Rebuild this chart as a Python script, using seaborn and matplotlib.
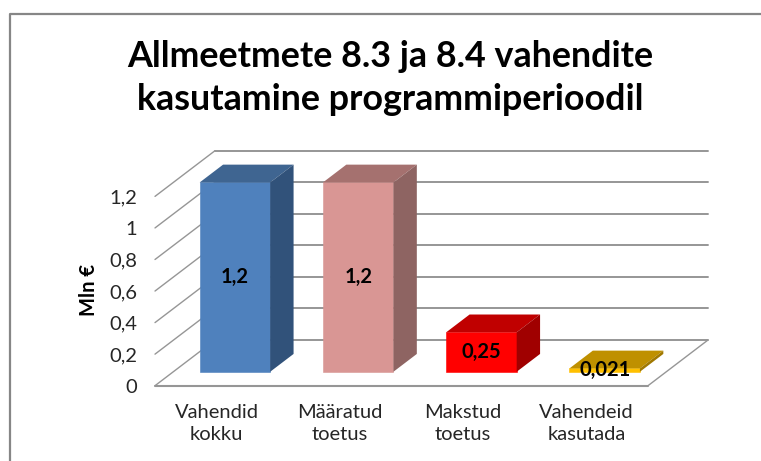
import matplotlib
matplotlib.use("Agg")
import matplotlib.pyplot as plt
from matplotlib.lines import Line2D
from matplotlib.patches import Polygon
import seaborn as sns

sns.set_theme(style="white")
plt.rcParams['font.family'] = ['Lato', 'DejaVu Sans']

# data
categories = ["Vahendid\nkokku", "Määratud\ntoetus", "Makstud\ntoetus", "Vahendeid\nkasutada"]
values = [1.2, 1.2, 0.25, 0.021]
value_labels = ["1,2", "1,2", "0,25", "0,021"]
y_ticks = [0, 0.2, 0.4, 0.6, 0.8, 1, 1.2]
y_tick_labels = ["0", "0,2", "0,4", "0,6", "0,8", "1", "1,2"]
title = "Allmeetmete 8.3 ja 8.4 vahendite\nkasutamine programmiperioodil"

front_colors = ["#4F81BD", "#D99694", "#FF0000", "#FFC000"]
top_colors = ["#3F6591", "#A5716F", "#C00000", "#BF9000"]
side_colors = ["#31527A", "#8E6462", "#A00000", "#A07800"]
grid_color = "#969696"

W, H = 761, 461
fig = plt.figure(figsize=(W / 100, H / 100), dpi=100)
ax = fig.add_axes([155 / W, 1 - 385.7 / H, (708 - 155) / W, (385.7 - 150.7) / H])

sns.barplot(x=categories, y=values, hue=categories, palette=front_colors,
            width=0.572, legend=False, saturation=1, ax=ax)

# oblique depth of the floor, in data units
depth_x = 60 / 123.25
depth_y = 45.7 / 157.8
ax.set_xlim(-0.5, 3.5 + depth_x)
ax.set_ylim(0, 1.2 + depth_y)
bar_start = 0.305
bar_depth = 0.39

# back wall, left wall and floor
for t in y_ticks:
    ax.plot([-0.5 + depth_x, 3.5 + depth_x], [t + depth_y, t + depth_y],
            color=grid_color, lw=1.4, zorder=1, clip_on=False)
    ax.plot([-0.5, -0.5 + depth_x], [t, t + depth_y],
            color=grid_color, lw=1.0, zorder=1, clip_on=False)
ax.plot([-0.5, 3.5], [0, 0], color=grid_color, lw=1.5, zorder=1, clip_on=False)
ax.plot([3.5, 3.5 + depth_x], [0, depth_y], color=grid_color, lw=1.0, zorder=1, clip_on=False)

# turn the flat bars into boxes
for i, bar in enumerate(ax.patches):
    bar.set_x(bar.get_x() + bar_start * depth_x)
    bar.set_y(bar_start * depth_y)
    bar.set_zorder(3)
    bar.set_edgecolor(front_colors[i])
    bar.set_linewidth(0.4)
    x0, y0 = bar.get_x(), bar.get_y()
    x1, y1 = x0 + bar.get_width(), y0 + bar.get_height()
    dx, dy = bar_depth * depth_x, bar_depth * depth_y
    ax.add_patch(Polygon([(x0, y1), (x1, y1), (x1 + dx, y1 + dy), (x0 + dx, y1 + dy)],
                         facecolor=top_colors[i], edgecolor="none", zorder=3))
    ax.add_patch(Polygon([(x1, y0), (x1 + dx, y0 + dy), (x1 + dx, y1 + dy), (x1, y1)],
                         facecolor=side_colors[i], edgecolor="none", zorder=3))
    ax.text((x0 + x1) / 2, (y0 + y1) / 2, value_labels[i], ha="center", va="center",
            fontsize=14.5, fontweight="bold", color="black", zorder=5)

sns.despine(ax=ax, left=True, bottom=True, top=True, right=True)
ax.set_yticks(y_ticks)
ax.set_yticklabels(y_tick_labels, fontsize=14.5, color="#262626")
ax.set_xticks(range(len(categories)))
ax.set_xticklabels(categories, fontsize=14.5, color="#262626", linespacing=1.4)
ax.tick_params(axis="y", length=0, pad=13)
ax.tick_params(axis="x", length=0, pad=13)
ax.set_xlabel("")
ax.set_ylabel("")

fig.text(89 / W, 1 - 290 / H, "Mln €", rotation=90, ha="center", va="center",
         fontsize=14.5, fontweight="bold", color="black")
fig.text(390 / W, 1 - 78 / H, title, ha="center", va="center", fontsize=25.8,
         fontweight="bold", color="black", linespacing=1.36)

# chart frame, cut off by the image at right and bottom
fig.add_artist(Line2D([9.5 / W, 9.5 / W, 1], [0, 1 - 14 / H, 1 - 14 / H],
                      color="#868686", lw=1.6))

plt.savefig("out.png", dpi=100)
